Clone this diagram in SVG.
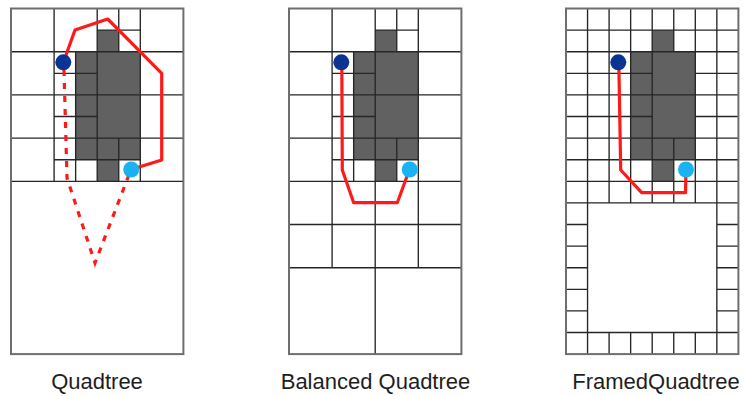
<svg xmlns="http://www.w3.org/2000/svg" width="745" height="396" viewBox="0 0 745 396">
<style>
.bg{fill:#ffffff}
.fill{fill:#616161;stroke:none}
.grid{fill:none;stroke:#262626;stroke-width:1.35}
.border{fill:none;stroke:#6e6e6e;stroke-width:2}
.path{fill:none;stroke:#ff1a1a;stroke-width:3.2;stroke-linejoin:round;stroke-linecap:round}
.dash{fill:none;stroke:#ff1a1a;stroke-width:3.2;stroke-dasharray:6 7}
.start{fill:#0a3494}
.goal{fill:#1ab2f2}
.label{font-family:"Liberation Sans",Arial,sans-serif;font-size:22px;fill:#1e1e1e;text-anchor:middle}
</style>
<rect class="bg" x="0" y="0" width="745" height="396"/>

<g id="quadtree">
<rect class="fill" x="75.65" y="51.7" width="64.65" height="108"/>
<rect class="fill" x="97.2" y="30.1" width="21.55" height="21.6"/>
<rect class="fill" x="97.2" y="159.7" width="21.55" height="21.6"/>
<path class="grid" d="M11 181.3H183.4M54.1 8.5V181.3M97.2 8.5V181.3M140.3 8.5V181.3M11 51.7H183.4M11 94.9H183.4M11 138.1H183.4M75.65 51.7V181.3M54.1 73.3H97.2M54.1 116.5H97.2M54.1 159.7H140.3M118.75 8.5V51.7M118.75 138.1V181.3M97.2 30.1H140.3"/>
<rect class="border" x="11" y="8.5" width="172.4" height="345.6"/>
<text class="label" x="97" y="389">Quadtree</text>
</g>

<g id="balanced-quadtree">
<rect class="fill" x="353.65" y="51.7" width="64.65" height="108"/>
<rect class="fill" x="375.2" y="30.1" width="21.55" height="21.6"/>
<rect class="fill" x="375.2" y="159.7" width="21.55" height="21.6"/>
<path class="grid" d="M289 181.3H461.4M332.1 8.5V181.3M375.2 8.5V181.3M418.3 8.5V181.3M289 51.7H461.4M289 94.9H461.4M289 138.1H461.4M353.65 51.7V181.3M332.1 73.3H375.2M332.1 116.5H375.2M332.1 159.7H418.3M396.75 8.5V51.7M396.75 138.1V181.3M375.2 30.1H418.3M289 224.5H461.4M289 267.7H461.4M332.1 181.3V267.7M418.3 181.3V267.7M375.2 181.3V354.1"/>
<rect class="border" x="289" y="8.5" width="172.4" height="345.6"/>
<text class="label" x="375.5" y="389">Balanced Quadtree</text>
</g>

<g id="framed-quadtree">
<rect class="fill" x="630.65" y="51.7" width="64.65" height="108"/>
<rect class="fill" x="652.2" y="30.1" width="21.55" height="21.6"/>
<rect class="fill" x="652.2" y="159.7" width="21.55" height="21.6"/>
<path class="grid" d="M587.55 8.5V181.3M609.1 8.5V181.3M630.65 8.5V181.3M652.2 8.5V181.3M695.3 8.5V181.3M716.85 8.5V181.3M673.75 8.5V51.7M673.75 138.1V181.3M566 30.1H738.4M566 51.7H738.4M566 94.9H738.4M566 138.1H738.4M566 159.7H738.4M566 73.3H652.2M695.3 73.3H738.4M566 116.5H652.2M695.3 116.5H738.4M566 181.3H738.4M566 202.9H738.4M566 332.5H738.4M587.55 181.3V354.1M716.85 181.3V354.1M609.1 181.3V202.9M630.65 181.3V202.9M652.2 181.3V202.9M673.75 181.3V202.9M695.3 181.3V202.9M609.1 332.5V354.1M630.65 332.5V354.1M652.2 332.5V354.1M673.75 332.5V354.1M695.3 332.5V354.1M566 224.5H587.55M566 246.1H587.55M566 267.7H587.55M566 289.3H587.55M566 310.9H587.55M716.85 224.5H738.4M716.85 246.1H738.4M716.85 267.7H738.4M716.85 289.3H738.4M716.85 310.9H738.4"/>
<rect class="border" x="566" y="8.5" width="172.4" height="345.6"/>
<text class="label" x="656" y="389">FramedQuadtree</text>
</g>

<g id="connectors">
<polyline class="path" points="63.5,62 75,30 107.7,19 161.7,73.3 161.7,160 131,169.5"/>
<polyline class="dash" points="64,70 67,178 95,263 131,169.5"/>
<polyline class="path" points="341.8,62 342.3,170 353.7,202.7 397.3,202.7 409.5,169.5"/>
<polyline class="path" points="618.8,62 620.7,170 641.7,192.7 685.5,192.7 686,169.5"/>
</g>

<g id="endpoints">
<circle class="start" cx="63.3" cy="62.3" r="8"/>
<circle class="goal" cx="131.2" cy="169.5" r="8"/>
<circle class="start" cx="341.3" cy="62.3" r="8"/>
<circle class="goal" cx="409.7" cy="169.5" r="8"/>
<circle class="start" cx="618.3" cy="62.3" r="8"/>
<circle class="goal" cx="686" cy="169.5" r="8"/>
</g>
</svg>
